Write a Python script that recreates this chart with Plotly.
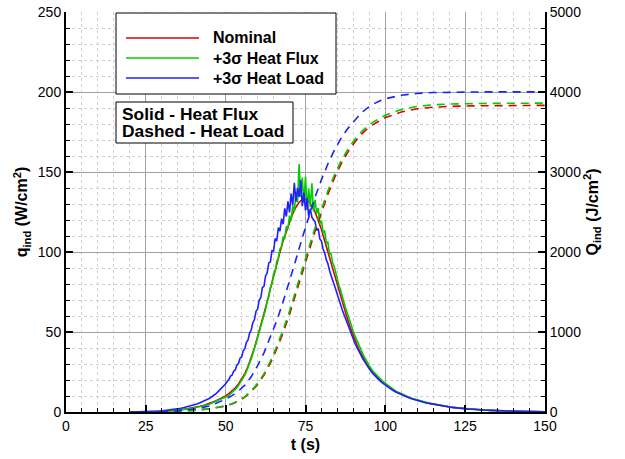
import plotly.graph_objects as go

# ---- data ----
# nominal heat flux, sampled each second 20..150 s
t_flux = list(range(20, 151))
q_nominal = [0, 0, 0, 0, 0, 0.1, 0.1, 0.2, 0.2, 0.3,
             0.4, 0.5, 0.6, 0.8, 1.0, 1.2, 1.4, 1.7, 2.0, 2.3,
             2.7, 3.1, 3.6, 4.1, 4.7, 5.4, 6.2, 7.1, 8.0, 9.0,
             10, 11.5, 13, 15, 17.5, 20.5, 24, 28.5, 34, 40,
             47, 54, 61, 69, 77, 85, 93, 100, 107, 113,
             119, 124, 128, 131, 133, 133, 131.5, 129, 125, 120,
             114, 107, 100, 93, 86, 79, 72, 65.5, 59, 53,
             47.5, 42.5, 38, 34, 30.5, 27.5, 25, 22.5, 20.5, 18.5,
             17, 15.5, 14.2, 13, 12, 11, 10.1, 9.3, 8.6, 7.9,
             7.3, 6.7, 6.2, 5.7, 5.3, 4.9, 4.5, 4.1, 3.8, 3.5,
             3.2, 2.9, 2.7, 2.5, 2.3, 2.1, 1.9, 1.7, 1.6, 1.4,
             1.3, 1.2, 1.1, 1.0, 0.9, 0.8, 0.7, 0.65, 0.6, 0.5,
             0.45, 0.4, 0.35, 0.3, 0.28, 0.25, 0.22, 0.2, 0.18, 0.16, 0.15]

# noisy runs: each second 20..49, each half second 50..95, each second 96..150
t_noisy = list(range(20, 50)) + [50 + 0.5 * k for k in range(91)] + list(range(96, 151))

q_flux3s = [
    # 20..49
    0, 0, 0, 0, 0, 0.1, 0.1, 0.1, 0.2, 0.2,
    0.3, 0.4, 0.5, 0.7, 0.8, 1.0, 1.3, 1.5, 1.8, 2.1,
    2.5, 2.9, 3.3, 3.8, 4.4, 5.0, 5.8, 6.6, 7.5, 8.2,
    # 50..95 by 0.5
    9.0, 9.8, 10.4, 11.3, 12.0, 13.1, 14.2, 15.0, 16.6, 18.1,
    19.4, 21.3, 23.0, 25.4, 27.6, 30.5, 33.1, 36.2, 39.8, 42.1,
    46.5, 49.2, 53.8, 56.5, 61.4, 64.0, 69.5, 71.8, 77.9, 80.2,
    86.3, 87.5, 94.2, 96.0, 101.8, 103.1, 109.5, 108.2, 116.0, 114.5,
    122.8, 119.6, 129.0, 125.2, 137.5, 131.0, 155.0, 134.2, 146.5, 130.8,
    147.2, 126.5, 139.8, 128.0, 143.0, 125.4, 132.6, 124.0, 127.5, 117.8,
    119.6, 112.0, 113.4, 105.5, 106.2, 99.0, 98.8, 93.2, 91.0, 86.4,
    83.2, 79.1, 76.0, 71.9, 69.2, 65.3, 62.4, 59.0, 56.3, 53.1,
    50.2, 47.6, 45.1, 42.5, 40.3, 38.0, 36.0, 34.1, 32.2, 30.5,
    28.9,
    # 96..150
    25.8, 23.6, 21.4, 19.6, 17.8, 16.2, 14.7, 13.5, 12.3, 11.3,
    10.4, 9.6, 8.8, 8.1, 7.5,
    6.9, 6.3, 5.9, 5.4, 5.0, 4.6, 4.2, 3.9, 3.6,
    3.3, 3.0, 2.8, 2.5, 2.3, 2.1, 1.9, 1.8, 1.6, 1.5,
    1.3, 1.2, 1.1, 1.0, 0.9, 0.8, 0.7, 0.65, 0.6, 0.5,
    0.45, 0.4, 0.35, 0.3, 0.28, 0.25, 0.22, 0.2, 0.18, 0.16, 0.15]

q_load3s = [
    # 20..49
    0, 0, 0, 0, 0, 0.1, 0.2, 0.3, 0.4, 0.5,
    0.7, 0.9, 1.1, 1.3, 1.6, 1.9, 2.3, 2.8, 3.3, 3.8,
    4.4, 5.0, 5.8, 6.6, 7.6, 8.6, 10.0, 11.4, 13.5, 15.4,
    # 50..95 by 0.5
    17.6, 19.2, 20.2, 22.4, 23.0, 25.5, 26.3, 29.2, 30.3, 33.6,
    34.4, 38.2, 39.6, 43.5, 45.0, 49.3, 51.2, 55.8, 57.6, 62.9,
    64.2, 70.0, 71.4, 77.8, 78.5, 85.2, 86.9, 93.2, 93.8, 100.8,
    100.6, 108.4, 106.9, 115.3, 113.0, 120.8, 117.4, 127.3, 122.2, 131.6,
    124.8, 136.5, 129.1, 143.2, 131.5, 140.0, 134.4, 145.0, 128.6, 137.2,
    126.0, 133.5, 122.4, 127.0, 121.8, 120.2, 118.9, 113.5, 114.6, 108.2,
    106.8, 101.9, 99.6, 95.2, 92.8, 88.6, 86.1, 82.4, 79.5, 76.0,
    73.4, 69.8, 67.0, 63.9, 61.2, 58.0, 55.4, 52.6, 50.1, 47.5,
    45.2, 42.8, 40.9, 38.7, 36.8, 34.9, 33.1, 31.5, 29.8, 28.3,
    26.8,
    # 96..150
    24.3, 22.0, 20.1, 18.3, 16.7, 15.3, 14.0, 12.8, 11.8, 10.8,
    9.9, 9.2, 8.5, 7.8, 7.2,
    6.6, 6.1, 5.6, 5.2, 4.8, 4.4, 4.0, 3.7, 3.4,
    3.1, 2.9, 2.6, 2.4, 2.2, 2.0, 1.8, 1.7, 1.5, 1.4,
    1.3, 1.2, 1.1, 1.0, 0.9, 0.8, 0.7, 0.65, 0.6, 0.5,
    0.45, 0.4, 0.35, 0.3, 0.28, 0.25, 0.22, 0.2, 0.18, 0.16, 0.15]

# integrated heat load (right axis)
t_load = [25, 30, 35, 40, 45,
          50, 52, 54, 56, 58, 60, 62, 64, 66, 68, 70, 72, 74, 76, 78,
          80, 82, 84, 86, 88, 90, 92, 94, 96, 98, 100,
          105, 110, 115, 120, 130, 140, 150]

Q_nominal = [0, 3, 10, 20, 40,
             75, 100, 135, 185, 255, 345, 460, 610, 790, 990, 1220, 1470, 1730, 2000, 2260,
             2500, 2720, 2920, 3090, 3230, 3350, 3450, 3530, 3590, 3640, 3680,
             3750, 3790, 3810, 3820, 3828, 3832, 3833]

Q_flux3s = [0, 3, 10, 20, 40,
            78, 104, 140, 192, 265, 358, 478, 635, 822, 1028, 1262, 1515, 1778, 2048, 2306,
            2545, 2762, 2960, 3128, 3266, 3384, 3482, 3561, 3620, 3670, 3710,
            3780, 3820, 3840, 3850, 3857, 3860, 3861]

Q_load3s = [0, 5, 15, 35, 75,
            160, 205, 262, 335, 440, 580, 740, 930, 1140, 1380, 1635, 1905, 2180, 2440, 2685,
            2905, 3100, 3270, 3410, 3530, 3630, 3720, 3790, 3845, 3885, 3915,
            3960, 3982, 3993, 3998, 4001, 4002, 4002]

names = ["Nominal", "+3\u03c3 Heat Flux", "+3\u03c3 Heat Load"]
style_lines = ["Solid - Heat Flux", "Dashed - Heat Load"]
colors = ["#dd0000", "#00cc00", "#2020ff"]

FONT = "Liberation Sans, Arial, sans-serif"

fig = go.Figure()
flux_t = [t_flux, t_noisy, t_noisy]
flux = [q_nominal, q_flux3s, q_load3s]
load = [Q_nominal, Q_flux3s, Q_load3s]
for i in range(3):
    fig.add_trace(go.Scatter(x=flux_t[i], y=flux[i], mode="lines", name=names[i],
                             line=dict(color=colors[i], width=1.6), showlegend=False,
                             yaxis="y"))
for i in range(3):
    fig.add_trace(go.Scatter(x=t_load, y=load[i], mode="lines", name=names[i] + " load",
                             line=dict(color=colors[i], width=1.6, dash="8px,6px"),
                             showlegend=False, yaxis="y2"))

# plot area in pixels
L, R, T, B = 66, 545, 12, 412
W, H = 625, 459
pw, ph = R - L, B - T


def px(xp):
    return (xp - L) / pw


def py(yp):
    return (B - yp) / ph


shapes = []
annotations = []
# legend box
shapes.append(dict(type="rect", xref="paper", yref="paper", x0=px(116), x1=px(336),
                   y0=py(94), y1=py(13), line=dict(color="black", width=1),
                   fillcolor="white", layer="above"))
for i, yy in enumerate([38, 58, 78]):
    shapes.append(dict(type="line", xref="paper", yref="paper", x0=px(126), x1=px(199),
                       y0=py(yy), y1=py(yy), line=dict(color=colors[i], width=1.6)))
    annotations.append(dict(xref="paper", yref="paper", x=px(211), y=py(yy),
                            xanchor="left", yanchor="middle", showarrow=False,
                            text="<b>" + names[i] + "</b>",
                            font=dict(family=FONT, size=16, color="black")))
# line style box
shapes.append(dict(type="rect", xref="paper", yref="paper", x0=px(116), x1=px(293),
                   y0=py(143), y1=py(102), line=dict(color="black", width=1),
                   fillcolor="white", layer="above"))
for j, yy in enumerate([114, 131]):
    annotations.append(dict(xref="paper", yref="paper", x=px(120), y=py(yy),
                            xanchor="left", yanchor="middle", showarrow=False,
                            text="<b>" + style_lines[j] + "</b>",
                            font=dict(family=FONT, size=17.4, color="black")))

tickfont = dict(family=FONT, size=14, color="black")
titlefont = dict(family=FONT, size=16, color="black")

fig.update_layout(
    width=W, height=H, autosize=False,
    margin=dict(l=L, r=W - R, t=T, b=H - B, pad=0),
    paper_bgcolor="white", plot_bgcolor="white",
    font=dict(family=FONT, size=14, color="black"),
    shapes=shapes, annotations=annotations,
    xaxis=dict(range=[0, 150], tick0=0, dtick=25, ticks="inside", ticklen=7, tickwidth=2,
               tickcolor="black", showline=True, linecolor="black", linewidth=2,
               showgrid=True, gridcolor="#a0a0a0", gridwidth=1, zeroline=False,
               tickfont=tickfont, automargin=False,
               minor=dict(dtick=5, ticks="inside", ticklen=4, tickwidth=1, tickcolor="black",
                          showgrid=True, gridcolor="#d0d0d0", griddash="dot", gridwidth=1),
               title=dict(text="<b>t (s)</b>", font=titlefont, standoff=6)),
    yaxis=dict(range=[0, 250], tick0=0, dtick=50, ticks="inside", ticklen=7, tickwidth=2,
               tickcolor="black", showline=True, linecolor="black", linewidth=2,
               showgrid=True, gridcolor="#a0a0a0", gridwidth=1, zeroline=False,
               tickfont=tickfont, automargin=False,
               minor=dict(dtick=10, ticks="inside", ticklen=4, tickwidth=1, tickcolor="black",
                          showgrid=True, gridcolor="#d0d0d0", griddash="dot", gridwidth=1),
               title=dict(text="<b>q<sub>ind</sub> (W/cm<sup>2</sup>)</b>", font=titlefont,
                          standoff=6)),
    yaxis2=dict(range=[0, 5000], tick0=0, dtick=1000, overlaying="y", side="right",
                anchor="x", ticks="inside", ticklen=7, tickwidth=2, tickcolor="black",
                showline=True, linecolor="black", linewidth=2, showgrid=False,
                zeroline=False, tickfont=tickfont, automargin=False,
                minor=dict(dtick=200, ticks="inside", ticklen=4, tickwidth=1,
                           tickcolor="black", showgrid=False),
                title=dict(text="<b>Q<sub>ind</sub> (J/cm<sup>2</sup>)</b>", font=titlefont,
                           standoff=6)),
)

fig.write_html("out.html")
